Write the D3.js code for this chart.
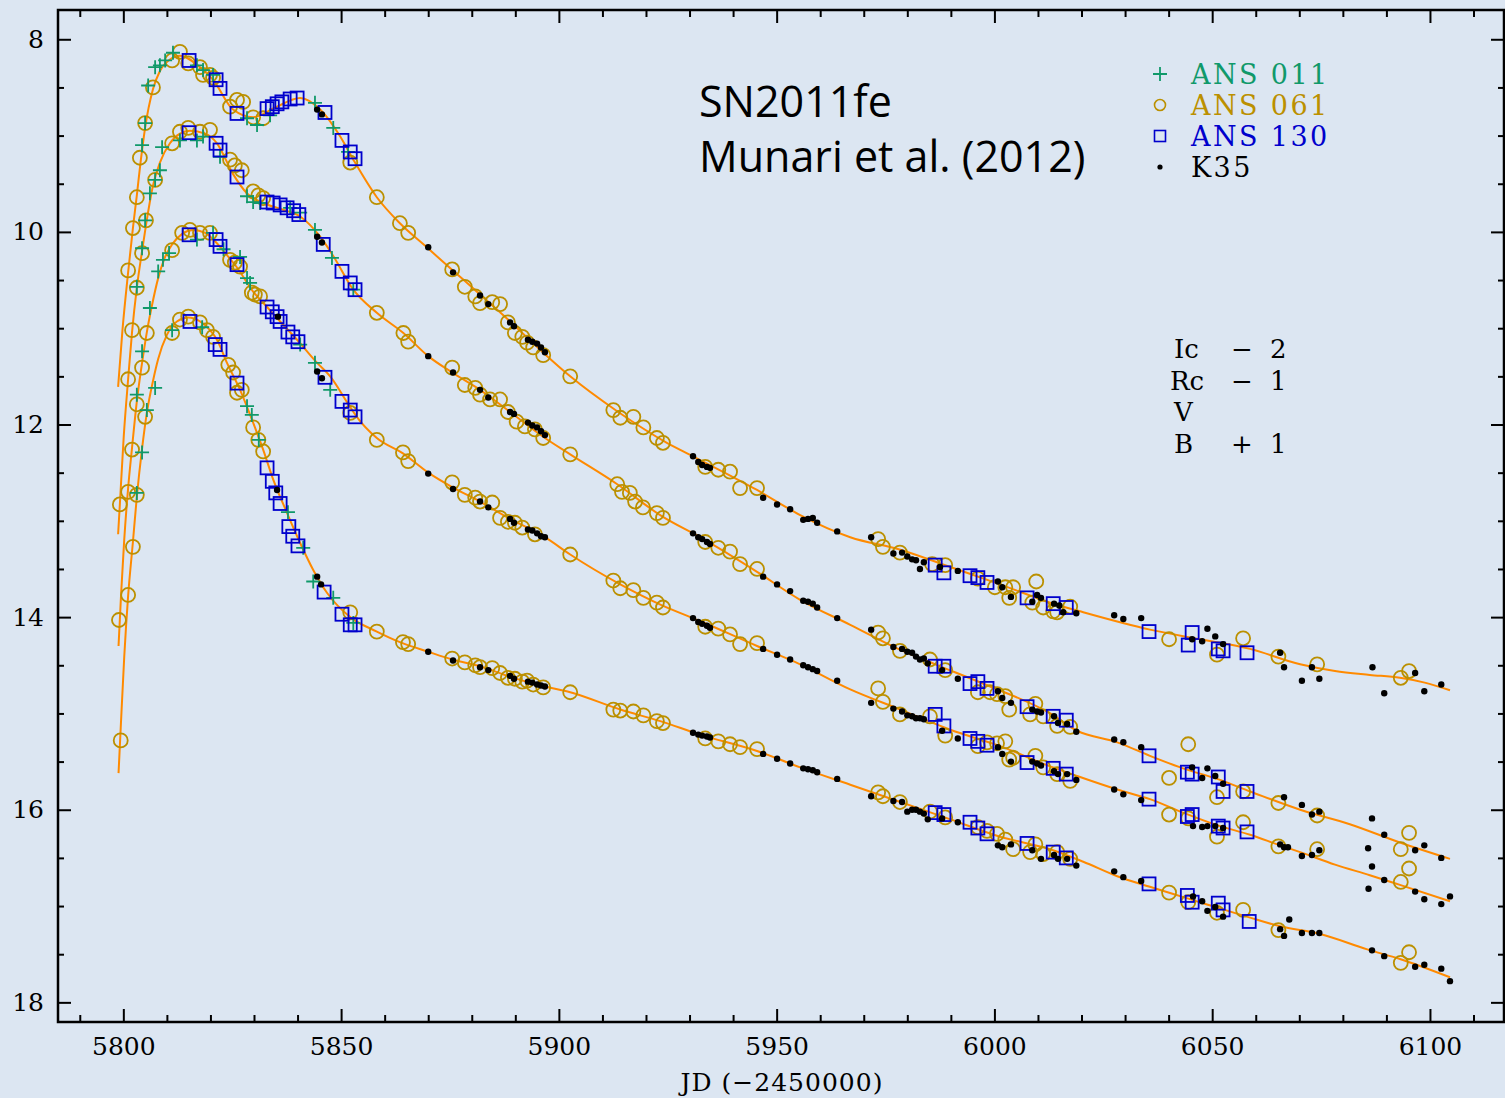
<!DOCTYPE html>
<html><head><meta charset="utf-8">
<script src="https://cdn.jsdelivr.net/npm/d3@7"></script>
<style>html,body{margin:0;padding:0;background:#DCE6F2;} svg{display:block}</style>
</head><body><svg id="c" width="1505" height="1098"></svg>
<script>
// ---------- tick values ----------
const X_MAJOR = [5800, 5850, 5900, 5950, 6000, 6050, 6100];
const X_MINOR = [5790, 5810, 5820, 5830, 5840, 5860, 5870, 5880, 5890, 5910, 5920, 5930, 5940, 5960, 5970, 5980, 5990, 6010, 6020, 6030, 6040, 6060, 6070, 6080, 6090, 6110];
const Y_MAJOR = [8, 10, 12, 14, 16, 18];
const Y_MINOR = [8.5, 9, 9.5, 10.5, 11, 11.5, 12.5, 13, 13.5, 14.5, 15, 15.5, 16.5, 17, 17.5];

// ---------- legend / labels ----------
const LEGEND = ["ANS 011", "ANS 061", "ANS 130", "K35"];
const BANDS = [["Ic", "\u2212", "2"], ["Rc", "\u2212", "1"], ["V", "", ""], ["B", "+", "1"]];

// ---------- fitted curves (JD-2450000, mag incl. offset) ----------
const CURVE_I = [[5798.8,11.61],[5799.8,11.02],[5801.1,10.42],[5802.2,9.96],[5803.1,9.62],[5803.9,9.30],[5805.0,8.92],[5806.8,8.52],[5808.4,8.33],[5810.7,8.21],[5813.0,8.17],[5817.6,8.29],[5820.6,8.42],[5825.2,8.73],[5829.8,8.81],[5834.8,8.71],[5840.6,8.61],[5845.2,8.73],[5849.8,9.01],[5852.8,9.25],[5858.2,9.64],[5863.5,9.91],[5869.7,10.16],[5875.4,10.39],[5881.9,10.65],[5888.8,10.93],[5896.8,11.27],[5902.6,11.50],[5913.3,11.86],[5924.8,12.19],[5930.8,12.33],[5945.5,12.68],[5955.4,12.94],[5966.9,13.17],[5978.4,13.30],[5989.9,13.48],[6001.3,13.66],[6012.8,13.85],[6020.4,13.95],[6035.7,14.13],[6047.2,14.23],[6058.7,14.33],[6070.2,14.49],[6078.2,14.56],[6086.2,14.60],[6093.1,14.63],[6098.8,14.68],[6104.6,14.76]];
const CURVE_R = [[5798.8,13.14],[5799.2,12.83],[5800.1,12.12],[5801.1,11.53],[5802.0,11.04],[5803.1,10.58],[5804.3,10.20],[5805.2,9.93],[5806.8,9.52],[5808.4,9.28],[5810.7,9.08],[5813.0,8.98],[5815.3,8.95],[5818.8,8.98],[5821.5,9.08],[5825.2,9.40],[5828.4,9.60],[5832.1,9.70],[5836.7,9.77],[5840.6,9.84],[5845.2,10.05],[5848.2,10.25],[5852.8,10.60],[5858.2,10.84],[5864.3,11.05],[5870.0,11.29],[5875.5,11.46],[5881.9,11.64],[5888.8,11.87],[5896.8,12.14],[5902.6,12.31],[5913.4,12.62],[5923.9,12.96],[5932.4,13.17],[5945.5,13.53],[5955.4,13.82],[5966.9,14.08],[5978.4,14.34],[5986.4,14.49],[5997.9,14.70],[6012.8,15.00],[6019.0,15.18],[6028.2,15.30],[6035.7,15.44],[6043.3,15.57],[6051.1,15.68],[6058.7,15.81],[6070.2,16.00],[6081.6,16.15],[6093.1,16.34],[6104.6,16.51]];
const CURVE_V = [[5798.9,14.30],[5799.5,13.75],[5800.2,13.20],[5801.1,12.66],[5802.0,12.24],[5803.1,11.76],[5804.3,11.36],[5805.4,11.04],[5806.5,10.78],[5808.0,10.48],[5809.5,10.27],[5811.2,10.13],[5813.5,10.02],[5816.0,9.98],[5818.8,10.01],[5821.1,10.10],[5823.4,10.22],[5826.1,10.37],[5829.8,10.62],[5833.0,10.78],[5836.0,10.93],[5839.9,11.12],[5844.5,11.36],[5847.5,11.50],[5851.4,11.77],[5853.6,11.92],[5858.2,12.14],[5864.2,12.30],[5870.0,12.50],[5875.5,12.65],[5881.9,12.80],[5888.8,12.98],[5896.8,13.17],[5902.6,13.35],[5914.1,13.66],[5923.3,13.87],[5932.4,14.04],[5945.5,14.30],[5955.4,14.49],[5966.9,14.75],[5978.4,14.96],[5989.9,15.17],[6001.3,15.34],[6012.8,15.55],[6019.0,15.65],[6028.2,15.79],[6035.7,15.89],[6043.3,16.03],[6051.1,16.16],[6058.7,16.26],[6065.6,16.37],[6070.2,16.44],[6078.2,16.57],[6086.2,16.68],[6093.1,16.78],[6104.6,16.95]];
const CURVE_B = [[5798.9,15.62],[5799.4,15.15],[5800.2,14.42],[5801.1,13.78],[5802.2,13.22],[5803.1,12.75],[5804.3,12.25],[5805.4,11.88],[5806.8,11.55],[5808.0,11.32],[5810.0,11.07],[5812.3,10.93],[5814.9,10.89],[5817.6,10.93],[5819.9,11.02],[5821.5,11.12],[5823.8,11.36],[5826.8,11.64],[5829.8,11.98],[5832.1,12.26],[5834.4,12.57],[5837.6,12.92],[5840.6,13.23],[5843.6,13.51],[5846.8,13.75],[5852.1,14.00],[5858.2,14.15],[5863.5,14.26],[5870.0,14.36],[5875.5,14.44],[5881.9,14.51],[5888.8,14.62],[5896.8,14.72],[5902.6,14.78],[5914.1,14.96],[5923.3,15.08],[5932.4,15.22],[5945.5,15.39],[5955.4,15.56],[5966.9,15.74],[5978.4,15.92],[5989.9,16.10],[6001.3,16.28],[6012.8,16.41],[6020.4,16.54],[6028.2,16.69],[6035.7,16.80],[6047.2,16.96],[6058.7,17.12],[6065.6,17.21],[6074.8,17.29],[6085.6,17.45],[6093.1,17.55],[6104.6,17.74]];

// ---------- ANS 011 (plus) ----------
const ans011_I = [[5804.3,9.10],[5805.0,8.87],[5805.7,8.48],[5807.3,8.29],[5808.4,8.27],[5809.6,8.22],[5811.4,8.14],[5816.9,8.27],[5818.3,8.32],[5820.6,8.37],[5828.4,8.82],[5830.7,8.89],[5833.7,8.79],[5844.0,8.66],[5848.2,8.92],[5851.6,9.17]];
const ans011_R = [[5803.1,10.57],[5804.3,10.17],[5805.0,9.88],[5806.1,9.60],[5807.3,9.46],[5808.4,9.36],[5808.9,9.12],[5813.0,9.05],[5816.9,9.05],[5818.3,9.01],[5822.2,9.22],[5828.4,9.63],[5829.8,9.69],[5831.4,9.70],[5838.3,9.75],[5840.6,9.80],[5844.0,9.98],[5847.9,10.27],[5852.8,10.60]];
const ans011_V = [[5803.1,11.69],[5804.3,11.24],[5806.1,10.79],[5808.0,10.41],[5809.1,10.29],[5810.5,10.22],[5816.9,10.08],[5820.6,10.01],[5823.0,10.18],[5826.8,10.26],[5828.4,10.48],[5829.1,10.53],[5840.6,11.17],[5844.0,11.36],[5847.5,11.64]];
const ans011_B = [[5803.1,12.71],[5804.3,12.29],[5805.4,11.85],[5807.3,11.62],[5811.2,11.02],[5818.1,10.99],[5828.4,11.81],[5829.5,11.90],[5831.1,12.16],[5837.8,12.91],[5841.3,13.28],[5843.6,13.63],[5848.2,13.80],[5852.8,14.06]];

// ---------- ANS 061 (circle) ----------
const ans061_I = [[5801.1,10.40],[5802.2,9.96],[5803.1,9.64],[5803.8,9.23],[5805.0,8.87],[5806.8,8.50],[5811.2,8.22],[5813.0,8.13],[5814.9,8.25],[5817.6,8.29],[5818.3,8.37],[5819.9,8.37],[5820.6,8.40],[5824.5,8.70],[5826.1,8.63],[5827.5,8.65],[5829.8,8.81],[5832.1,8.82],[5852.1,9.28],[5858.2,9.64],[5863.5,9.91],[5865.4,10.01],[5875.5,10.39],[5878.4,10.57],[5880.8,10.67],[5881.9,10.74],[5884.7,10.73],[5886.5,10.75],[5888.3,10.94],[5889.9,11.05],[5891.6,11.09],[5892.7,11.15],[5894.1,11.20],[5896.4,11.28],[5902.6,11.50],[5912.5,11.85],[5914.1,11.93],[5917.1,11.92],[5919.4,12.03],[5922.5,12.14],[5923.9,12.19],[5933.6,12.44],[5936.6,12.47],[5939.3,12.49],[5941.6,12.66],[5945.5,12.66],[5973.3,13.19],[5974.4,13.27],[5978.3,13.33],[5985.7,13.45],[5988.7,13.46],[5996.2,13.60],[6000.1,13.69],[6002.5,13.69],[6004.3,13.69],[6003.4,13.80],[6009.6,13.63],[6008.7,13.85],[6011.2,13.90],[6013.5,13.94],[6014.4,13.95],[6017.4,13.89],[6040.1,14.23],[6051.1,14.39],[6057.1,14.22],[6065.2,14.41],[6074.1,14.49],[6093.3,14.63],[6095.2,14.56]];
const ans061_R = [[5799.2,12.83],[5801.1,11.53],[5802.0,11.02],[5803.1,10.58],[5804.3,10.22],[5805.2,9.88],[5807.3,9.46],[5811.2,9.08],[5813.0,8.96],[5814.9,8.92],[5817.6,8.96],[5819.9,8.94],[5824.5,9.25],[5825.6,9.31],[5827.2,9.36],[5829.8,9.58],[5831.0,9.62],[5832.1,9.65],[5858.2,10.84],[5864.3,11.05],[5865.4,11.14],[5875.5,11.41],[5878.4,11.59],[5880.8,11.62],[5881.9,11.69],[5884.2,11.74],[5886.5,11.74],[5888.3,11.87],[5890.3,11.97],[5892.2,12.02],[5894.5,12.05],[5896.4,12.14],[5902.6,12.31],[5913.4,12.62],[5914.5,12.70],[5916.3,12.71],[5917.5,12.80],[5919.3,12.86],[5922.5,12.92],[5923.9,12.97],[5933.6,13.22],[5936.6,13.28],[5939.3,13.32],[5941.6,13.45],[5945.5,13.50],[5973.3,14.16],[5974.4,14.22],[5978.3,14.35],[5985.2,14.44],[5988.7,14.55],[5996.2,14.78],[5999.0,14.78],[6000.6,14.80],[6002.5,14.82],[6003.4,14.96],[6008.2,15.01],[6009.4,14.90],[6011.2,15.03],[6014.4,15.13],[6017.4,15.14],[6040.1,15.67],[6044.5,15.32],[6051.1,15.87],[6057.1,15.81],[6065.2,15.93],[6074.1,16.06],[6093.3,16.41],[6095.2,16.24]];
const ans061_V = [[5799.0,14.03],[5801.1,12.70],[5802.0,12.26],[5803.1,11.79],[5804.3,11.41],[5805.4,11.05],[5811.2,10.19],[5813.5,10.01],[5815.3,9.98],[5817.6,10.01],[5819.9,10.01],[5824.5,10.29],[5825.6,10.32],[5826.8,10.36],[5829.5,10.63],[5830.2,10.65],[5831.4,10.67],[5852.1,11.88],[5858.2,12.16],[5864.2,12.29],[5865.4,12.38],[5875.5,12.60],[5878.4,12.73],[5880.8,12.76],[5881.9,12.80],[5884.7,12.81],[5886.5,12.97],[5888.3,13.01],[5889.9,13.02],[5891.6,13.07],[5894.5,13.14],[5902.6,13.35],[5912.5,13.62],[5914.1,13.70],[5917.1,13.72],[5919.4,13.80],[5922.5,13.85],[5923.9,13.90],[5933.6,14.10],[5936.6,14.12],[5939.3,14.18],[5941.6,14.28],[5945.5,14.27],[5973.3,14.74],[5974.4,14.88],[5978.3,15.01],[5985.2,15.03],[5988.7,15.23],[5996.2,15.34],[5998.3,15.30],[6000.6,15.31],[6002.5,15.29],[6003.4,15.48],[6004.3,15.46],[6009.4,15.44],[6011.2,15.56],[6014.4,15.63],[6017.4,15.70],[6040.1,16.05],[6044.5,16.09],[6051.1,16.28],[6057.1,16.13],[6065.2,16.38],[6074.1,16.41],[6093.3,16.75],[6095.2,16.61]];
const ans061_B = [[5799.4,15.28],[5801.1,13.77],[5802.2,13.27],[5803.1,12.73],[5805.0,11.92],[5811.2,11.05],[5813.0,10.91],[5814.9,10.88],[5817.6,10.94],[5819.2,11.02],[5820.6,11.09],[5824.1,11.38],[5825.2,11.46],[5826.1,11.67],[5827.2,11.64],[5829.8,12.03],[5831.0,12.16],[5832.1,12.28],[5852.1,13.95],[5858.2,14.15],[5864.2,14.26],[5865.4,14.28],[5875.5,14.43],[5878.4,14.47],[5880.8,14.50],[5881.9,14.52],[5884.7,14.53],[5886.5,14.58],[5888.3,14.63],[5889.9,14.64],[5891.6,14.67],[5892.7,14.66],[5894.1,14.70],[5896.4,14.73],[5902.6,14.78],[5912.5,14.96],[5914.1,14.97],[5917.1,14.98],[5919.4,15.02],[5922.5,15.08],[5923.9,15.10],[5933.6,15.26],[5936.6,15.29],[5939.3,15.32],[5941.6,15.35],[5945.5,15.37],[5973.3,15.82],[5974.4,15.86],[5978.3,15.92],[5985.2,16.02],[5988.7,16.08],[5996.2,16.18],[5998.3,16.22],[6000.6,16.25],[6002.5,16.31],[6004.3,16.41],[6008.2,16.44],[6009.4,16.36],[6011.2,16.46],[6014.4,16.44],[6017.4,16.51],[6040.1,16.86],[6044.5,16.96],[6051.1,17.07],[6057.1,17.04],[6065.2,17.25],[6093.3,17.59],[6095.2,17.48]];

// ---------- ANS 130 (square) ----------
const ans130_I = [[5815.1,8.22],[5821.3,8.42],[5822.2,8.51],[5826.1,8.77],[5833.0,8.72],[5834.2,8.70],[5835.3,8.67],[5836.4,8.65],[5838.3,8.62],[5839.9,8.61],[5846.3,8.76],[5850.2,9.05],[5852.1,9.17],[5853.2,9.24],[5986.4,13.46],[5988.4,13.54],[5994.4,13.57],[5996.2,13.59],[5998.3,13.64],[6007.5,13.80],[6013.5,13.86],[6016.5,13.90],[6035.5,14.15],[6045.4,14.16],[6044.5,14.29],[6051.4,14.33],[6052.5,14.35],[6058.0,14.37]];
const ans130_R = [[5815.1,8.97],[5821.3,9.08],[5822.2,9.15],[5826.1,9.43],[5833.0,9.69],[5834.4,9.70],[5836.0,9.72],[5837.6,9.75],[5839.1,9.78],[5840.3,9.82],[5845.9,10.13],[5850.2,10.41],[5852.1,10.53],[5853.2,10.60],[5986.4,14.51],[5988.4,14.51],[5994.4,14.69],[5996.2,14.67],[5998.3,14.74],[6007.5,14.93],[6013.5,15.03],[6016.5,15.07],[6035.5,15.44],[6044.3,15.61],[6045.4,15.63],[6051.4,15.66],[6052.5,15.81],[6058.0,15.81]];
const ans130_V = [[5815.1,10.03],[5821.3,10.08],[5822.2,10.15],[5826.1,10.34],[5833.0,10.78],[5834.2,10.83],[5835.3,10.88],[5836.0,10.93],[5837.8,11.04],[5838.9,11.09],[5840.1,11.14],[5846.3,11.51],[5850.2,11.76],[5852.1,11.85],[5853.2,11.92],[5986.4,15.01],[5988.4,15.13],[5994.4,15.26],[5996.2,15.29],[5998.3,15.33],[6007.5,15.51],[6013.5,15.57],[6016.5,15.63],[6035.5,15.89],[6044.3,16.07],[6045.4,16.05],[6051.4,16.17],[6052.5,16.19],[6058.0,16.23]];
const ans130_B = [[5815.3,10.93],[5821.1,11.17],[5822.2,11.22],[5826.1,11.57],[5833.0,12.45],[5834.2,12.59],[5835.0,12.71],[5836.0,12.82],[5838.0,13.06],[5838.9,13.16],[5840.1,13.26],[5846.1,13.74],[5850.2,13.97],[5852.1,14.08],[5853.2,14.08],[5986.4,16.03],[5988.4,16.05],[5994.4,16.13],[5996.2,16.19],[5998.3,16.25],[6007.5,16.35],[6013.5,16.44],[6016.5,16.50],[6035.5,16.77],[6044.3,16.89],[6045.4,16.96],[6051.4,16.97],[6052.5,17.04],[6058.5,17.16]];

// ---------- K35 (dot) ----------
const k35_I = [[5844.5,8.73],[5845.6,8.78],[5870.0,10.16],[5875.7,10.42],[5881.9,10.66],[5883.8,10.75],[5888.8,10.94],[5889.7,10.98],[5892.9,11.12],[5893.9,11.14],[5895.0,11.16],[5895.9,11.20],[5896.8,11.25],[5930.8,12.33],[5932.0,12.39],[5932.9,12.42],[5934.0,12.44],[5934.7,12.45],[5946.9,12.76],[5950.1,12.83],[5953.1,12.88],[5956.1,12.99],[5957.2,12.98],[5958.3,12.97],[5959.3,13.02],[5963.9,13.11],[5971.7,13.17],[5976.8,13.34],[5978.8,13.33],[5980.0,13.37],[5981.1,13.40],[5982.0,13.41],[5982.9,13.50],[5983.8,13.43],[5987.5,13.48],[5991.6,13.52],[6000.8,13.63],[6001.8,13.69],[6003.8,13.79],[6008.7,13.84],[6009.8,13.77],[6010.7,13.80],[6013.7,13.86],[6014.9,13.88],[6015.8,13.95],[6018.8,13.96],[6027.5,13.98],[6029.6,14.02],[6033.7,14.01],[6045.4,14.23],[6047.7,14.25],[6048.9,14.12],[6050.7,14.20],[6052.5,14.28],[6065.6,14.37],[6066.5,14.52],[6070.6,14.66],[6072.9,14.52],[6074.6,14.64],[6086.8,14.52],[6089.5,14.79],[6096.6,14.58],[6098.7,14.77],[6102.6,14.70]];
const k35_R = [[5844.5,10.05],[5845.6,10.11],[5870.0,11.29],[5875.7,11.46],[5881.9,11.64],[5883.8,11.72],[5888.8,11.87],[5889.7,11.89],[5892.9,11.98],[5893.9,12.01],[5895.0,12.03],[5895.9,12.07],[5896.8,12.11],[5930.8,13.13],[5932.0,13.17],[5932.9,13.19],[5934.0,13.22],[5934.7,13.24],[5946.9,13.58],[5950.1,13.66],[5953.1,13.73],[5956.1,13.83],[5957.2,13.84],[5958.3,13.86],[5959.3,13.90],[5963.9,14.01],[5971.7,14.13],[5976.8,14.31],[5978.8,14.33],[5980.0,14.36],[5981.1,14.37],[5982.0,14.41],[5982.9,14.44],[5983.8,14.43],[5984.7,14.48],[5988.0,14.55],[5991.6,14.64],[6000.8,14.77],[6001.8,14.84],[6003.8,14.89],[6008.7,14.96],[6009.8,14.98],[6010.7,14.99],[6013.7,15.03],[6014.6,15.10],[6016.7,15.11],[6018.8,15.19],[6027.5,15.27],[6029.6,15.30],[6033.7,15.35],[6045.4,15.56],[6047.7,15.67],[6048.9,15.57],[6050.7,15.65],[6052.5,15.73],[6066.5,15.87],[6070.6,15.95],[6072.9,16.05],[6074.6,16.02],[6086.7,16.09],[6089.5,16.26],[6096.6,16.42],[6098.7,16.37],[6102.6,16.50]];
const k35_V = [[5835.5,10.88],[5844.5,11.45],[5845.6,11.52],[5870.0,12.51],[5875.7,12.67],[5881.9,12.80],[5883.8,12.86],[5888.8,12.98],[5889.7,13.02],[5892.9,13.09],[5893.9,13.10],[5895.0,13.13],[5895.9,13.16],[5896.8,13.17],[5930.8,14.01],[5932.0,14.05],[5932.9,14.07],[5934.0,14.09],[5934.7,14.11],[5946.9,14.33],[5950.1,14.39],[5953.1,14.44],[5956.1,14.50],[5957.2,14.52],[5958.3,14.54],[5959.3,14.56],[5963.9,14.66],[5971.7,14.89],[5976.8,14.95],[5978.8,14.98],[5980.0,15.02],[5981.1,15.03],[5982.0,15.05],[5982.9,15.05],[5983.8,15.06],[5988.0,15.18],[5991.6,15.26],[6000.8,15.35],[6001.8,15.42],[6003.8,15.50],[6008.7,15.50],[6009.8,15.52],[6010.7,15.54],[6013.7,15.60],[6014.6,15.63],[6016.7,15.63],[6018.8,15.69],[6027.5,15.79],[6029.6,15.84],[6033.7,15.90],[6045.6,16.17],[6047.7,16.18],[6048.9,16.17],[6050.7,16.17],[6052.5,16.19],[6065.6,16.36],[6066.5,16.39],[6067.4,16.39],[6070.6,16.48],[6072.9,16.47],[6074.6,16.42],[6085.8,16.40],[6086.7,16.59],[6085.9,16.82],[6089.5,16.73],[6096.6,16.85],[6098.7,16.93],[6102.6,16.98],[6104.6,16.90]];
const k35_B = [[5835.3,12.68],[5844.5,13.58],[5845.4,13.66],[5870.0,14.36],[5875.7,14.45],[5881.9,14.52],[5883.8,14.55],[5888.8,14.61],[5889.7,14.64],[5892.9,14.67],[5893.9,14.68],[5895.0,14.70],[5895.9,14.71],[5896.8,14.72],[5930.8,15.20],[5932.0,15.22],[5932.9,15.23],[5934.0,15.24],[5934.7,15.25],[5946.9,15.42],[5950.1,15.47],[5953.1,15.52],[5956.1,15.57],[5957.2,15.58],[5958.3,15.59],[5959.3,15.61],[5963.9,15.68],[5971.7,15.86],[5976.8,15.91],[5978.8,15.92],[5980.0,16.02],[5981.1,16.00],[5982.0,16.00],[5982.9,16.02],[5983.8,16.04],[5984.7,16.10],[5988.0,16.09],[5991.6,16.13],[6000.8,16.37],[6001.8,16.39],[6003.8,16.36],[6008.7,16.42],[6010.7,16.51],[6013.7,16.47],[6014.6,16.51],[6016.7,16.51],[6018.8,16.58],[6027.5,16.64],[6029.6,16.70],[6033.7,16.74],[6045.6,16.90],[6047.7,16.95],[6048.9,17.05],[6050.7,17.01],[6052.5,17.11],[6065.6,17.24],[6066.5,17.31],[6067.7,17.14],[6070.6,17.28],[6072.9,17.28],[6074.6,17.28],[6086.7,17.46],[6089.5,17.52],[6096.6,17.63],[6098.7,17.61],[6102.6,17.65],[6104.6,17.78]];

// ---------- drawing ----------
const W = 1505, H = 1098;
const L = 58, R = 1504, T = 10, Bt = 1022;
const COL = {green: "#10996a", gold: "#bb9000", blue: "#0000cc", black: "#000", orange: "#ff8a00"};
const SERIF = "'DejaVu Serif', serif";

const x = d3.scaleLinear().domain([5785, 6117]).range([L, R]);
const y = d3.scaleLinear().domain([7.696, 18.204]).range([T, Bt]);

const svg = d3.select("#c");
svg.append("rect").attr("width", W).attr("height", H).attr("fill", "#DCE6F2");

// curves
const line = d3.line().x(d => x(d[0])).y(d => y(d[1])).curve(d3.curveMonotoneX);
const gC = svg.append("g");
[CURVE_I, CURVE_R, CURVE_V, CURVE_B].forEach(c => {
  gC.append("path").attr("d", line(c)).attr("fill", "none")
    .attr("stroke", COL.orange).attr("stroke-width", 2);
});

// points
const gP = svg.append("g");
function circles(data) {
  gP.append("g").selectAll("circle").data(data).join("circle")
    .attr("cx", d => x(d[0])).attr("cy", d => y(d[1])).attr("r", 7)
    .attr("fill", "none").attr("stroke", COL.gold).attr("stroke-width", 1.8);
}
function pluses(data) {
  gP.append("g").selectAll("path").data(data).join("path")
    .attr("d", d => `M${x(d[0]) - 7},${y(d[1])}h14M${x(d[0])},${y(d[1]) - 7}v14`)
    .attr("stroke", COL.green).attr("stroke-width", 1.8).attr("fill", "none");
}
function squares(data) {
  gP.append("g").selectAll("rect").data(data).join("rect")
    .attr("x", d => x(d[0]) - 6.5).attr("y", d => y(d[1]) - 6.5)
    .attr("width", 13).attr("height", 13)
    .attr("fill", "none").attr("stroke", COL.blue).attr("stroke-width", 1.8);
}
function dots(data) {
  gP.append("g").selectAll("circle").data(data).join("circle")
    .attr("cx", d => x(d[0])).attr("cy", d => y(d[1])).attr("r", 3.2).attr("fill", COL.black);
}
[ans061_I, ans061_R, ans061_V, ans061_B].forEach(circles);
[ans011_I, ans011_R, ans011_V, ans011_B].forEach(pluses);
[ans130_I, ans130_R, ans130_V, ans130_B].forEach(squares);
[k35_I, k35_R, k35_V, k35_B].forEach(dots);

// axes
function styleAxis(g) {
  g.select(".domain").remove();
  g.selectAll("line").attr("stroke", "#000").attr("stroke-width", 2);
  g.selectAll("text").attr("fill", "#000").style("font-family", SERIF).style("font-size", "25px");
}
svg.append("g").attr("transform", `translate(0,${Bt})`)
  .call(d3.axisBottom(x).tickValues(X_MAJOR).tickSize(-13).tickPadding(15).tickFormat(d3.format("d"))).call(styleAxis);
svg.append("g").attr("transform", `translate(0,${Bt})`)
  .call(d3.axisBottom(x).tickValues(X_MINOR).tickSize(-7).tickFormat("")).call(styleAxis);
svg.append("g").attr("transform", `translate(0,${T})`)
  .call(d3.axisTop(x).tickValues(X_MAJOR).tickSize(-13).tickFormat("")).call(styleAxis);
svg.append("g").attr("transform", `translate(0,${T})`)
  .call(d3.axisTop(x).tickValues(X_MINOR).tickSize(-7).tickFormat("")).call(styleAxis);
svg.append("g").attr("transform", `translate(${L},0)`)
  .call(d3.axisLeft(y).tickValues(Y_MAJOR).tickSize(-13).tickPadding(14).tickFormat(d3.format("d"))).call(styleAxis);
svg.append("g").attr("transform", `translate(${L},0)`)
  .call(d3.axisLeft(y).tickValues(Y_MINOR).tickSize(-6).tickFormat("")).call(styleAxis);
svg.append("g").attr("transform", `translate(${R},0)`)
  .call(d3.axisRight(y).tickValues(Y_MAJOR).tickSize(-13).tickFormat("")).call(styleAxis);
svg.append("g").attr("transform", `translate(${R},0)`)
  .call(d3.axisRight(y).tickValues(Y_MINOR).tickSize(-6).tickFormat("")).call(styleAxis);

svg.append("rect").attr("x", L).attr("y", T).attr("width", R - L).attr("height", Bt - T)
  .attr("fill", "none").attr("stroke", "#000").attr("stroke-width", 2.5);

// x axis title
svg.append("text").attr("x", 782).attr("y", 1091).attr("text-anchor", "middle")
  .style("font-family", SERIF).style("font-size", "25px").style("letter-spacing", "1px").text("JD (\u22122450000)");

// title
const tt = svg.append("g").style("font-family", "'Open Sans', sans-serif").style("font-size", "43px").attr("fill", "#000");
tt.append("text").attr("x", 699).attr("y", 117).text("SN2011fe");
tt.append("text").attr("x", 699).attr("y", 172).text("Munari et al. (2012)");

// legend
const lg = svg.append("g");
const lgCols = [COL.green, COL.gold, COL.blue, COL.black];
LEGEND.forEach((t, i) => {
  const cy = 74 + i * 31, cx = 1160;
  if (i === 0) lg.append("path").attr("d", `M${cx - 7},${cy}h14M${cx},${cy - 7}v14`).attr("stroke", COL.green).attr("stroke-width", 1.8);
  if (i === 1) lg.append("circle").attr("cx", cx).attr("cy", cy).attr("r", 5.5).attr("fill", "none").attr("stroke", COL.gold).attr("stroke-width", 1.6);
  if (i === 2) lg.append("rect").attr("x", cx - 5.5).attr("y", cy - 5.5).attr("width", 11).attr("height", 11).attr("fill", "none").attr("stroke", COL.blue).attr("stroke-width", 1.6);
  if (i === 3) lg.append("circle").attr("cx", cx).attr("cy", cy).attr("r", 2.6).attr("fill", "#000");
  lg.append("text").attr("x", 1191).attr("y", cy + 10).attr("fill", lgCols[i])
    .style("font-family", SERIF).style("font-size", "27px").style("letter-spacing", "2.4px").text(t);
});

// band offsets annotation
const an = svg.append("g").style("font-family", SERIF).style("font-size", "26px").attr("fill", "#000");
BANDS.forEach((b, i) => {
  const by = 358 + i * 31.7;
  an.append("text").attr("x", i === 1 ? 1170 : 1174).attr("y", by).text(b[0]);
  an.append("text").attr("x", 1242).attr("y", by).attr("text-anchor", "middle").text(b[1]);
  an.append("text").attr("x", 1270).attr("y", by).text(b[2]);
});
</script>
</body></html>
